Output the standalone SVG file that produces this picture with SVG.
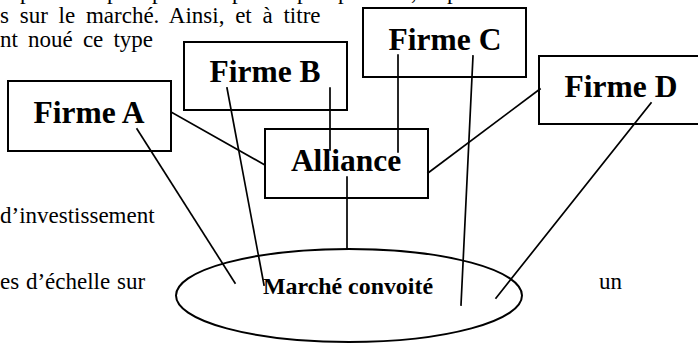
<svg xmlns="http://www.w3.org/2000/svg" width="698" height="343" viewBox="0 0 698 343">
<style>
.body{font-family:"Liberation Serif","Times New Roman",serif;font-size:23px;fill:#000}
.box{fill:#fff;stroke:#000;stroke-width:2}
.lbl{font-family:"Liberation Serif","Times New Roman",serif;font-weight:bold;font-size:31.5px;fill:#000;text-anchor:middle}
.mk{font-family:"Liberation Serif","Times New Roman",serif;font-weight:bold;font-size:23.5px;fill:#000}
.conn line{stroke:#000;stroke-width:1.7;stroke-linecap:square}
</style>
<rect width="698" height="343" fill="#fff"/>
<g id="background-text" class="body">
<text x="20 107 152 232 297 338 411 447" y="-1">pppppp,p</text>
<text x="0" y="23" word-spacing="5">s sur le marché. Ainsi, et à titre</text>
<text x="0" y="47" word-spacing="4.4">nt noué ce type</text>
<text x="0" y="223">d’investissement</text>
<text x="0" y="289" word-spacing="1">es d’échelle sur</text>
<text x="599" y="289">un</text>
</g>
<g id="marche">
<ellipse cx="349" cy="295.5" rx="173" ry="46.5" fill="#fff" stroke="#000" stroke-width="2"/>
<text class="mk" x="263" y="294" textLength="170" lengthAdjust="spacingAndGlyphs">Marché convoité</text>
</g>
<g id="firme-a">
<rect class="box" x="8" y="81" width="163" height="70"/>
<text class="lbl" x="89" y="123">Firme A</text>
</g>
<g id="firme-b">
<rect class="box" x="184" y="42" width="163" height="68"/>
<text class="lbl" x="265" y="82">Firme B</text>
</g>
<g id="firme-c">
<rect class="box" x="363" y="8" width="163" height="69"/>
<text class="lbl" x="445" y="50">Firme C</text>
</g>
<g id="firme-d">
<rect class="box" x="539" y="56" width="162" height="68"/>
<text class="lbl" x="621" y="97">Firme D</text>
</g>
<g id="alliance">
<rect class="box" x="265" y="129" width="163" height="69"/>
<text class="lbl" x="346" y="171">Alliance</text>
</g>
<g id="connectors" class="conn">
<line x1="171" y1="112" x2="265" y2="165"/>
<line x1="137" y1="129" x2="235" y2="283"/>
<line x1="227" y1="88" x2="264" y2="285"/>
<line x1="330" y1="88" x2="330" y2="150"/>
<line x1="398" y1="55" x2="398" y2="152"/>
<line x1="473" y1="56" x2="461" y2="305"/>
<line x1="540" y1="89" x2="428" y2="173"/>
<line x1="651" y1="103" x2="496" y2="298"/>
<line x1="347" y1="177" x2="347" y2="249"/>
</g>
</svg>
